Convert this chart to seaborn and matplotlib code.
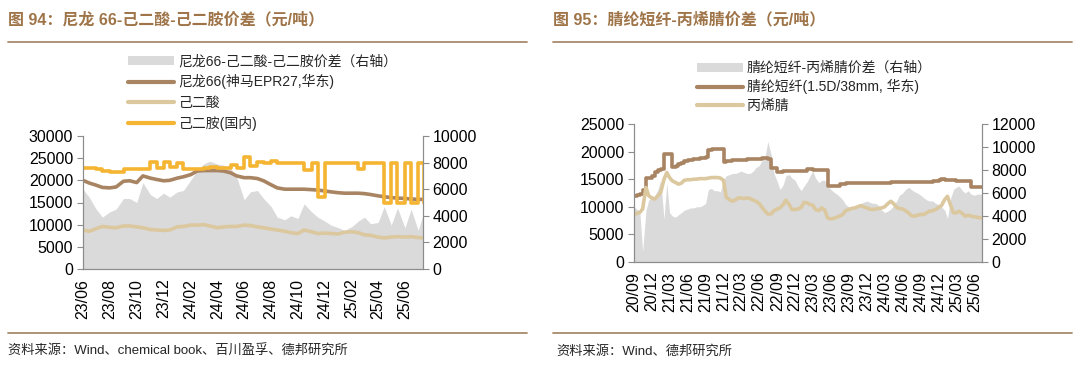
import matplotlib
matplotlib.use("Agg")
import matplotlib.pyplot as plt
import matplotlib.dates as mdates
from matplotlib.lines import Line2D
from matplotlib.patches import Patch
import pandas as pd
import seaborn as sns

# ---------------- data: chart 94 (semi-monthly, from 2023-06) ----------------
nylon66 = [20000, 19400, 18900, 18400, 18300, 18500, 19800, 19900, 19500, 21000,
           20500, 20200, 19900, 20000, 20500, 20800, 21300, 22100, 22200, 22200,
           22200, 22100, 21700, 21000, 20600, 20600, 20400, 19900, 19000, 18300,
           18000, 18000, 18000, 18000, 17900, 17800, 17600, 17400, 17200, 17100,
           17100, 17100, 17000, 16800, 16500, 16300, 16100, 16000, 15900, 15800,
           15700, 15700]
adipic = [8800, 8500, 9100, 9600, 9400, 9300, 9700, 9700, 9500, 9300,
          8900, 8800, 8700, 8800, 9500, 9600, 9900, 9900, 10000, 9700,
          9300, 9500, 9600, 9600, 9900, 9800, 9500, 9300, 9000, 8800,
          8500, 8200, 8000, 8800, 8400, 8000, 8100, 8000, 7900, 8300,
          8400, 8200, 7700, 7600, 7200, 7000, 7200, 7300, 7200, 7300,
          7100, 7000]
hmda = [22800, 22800, 22600, 22200, 21900, 21900, 22600, 22600, 22600, 22600,
        24200, 22700, 24100, 23000, 24000, 22600, 22600, 22600, 22800, 23000,
        22800, 22800, 23400, 22800, 25200, 23200, 24200, 23800, 24400, 23800,
        23800, 23800, 23900, 22300, 23900, 16200, 23900, 23900, 23900, 23900,
        23900, 22500, 23900, 23900, 23900, 14800, 23900, 14800, 23900, 14800,
        23900, 14800]
spread94 = [6000, 5400, 4500, 3900, 4300, 4500, 5300, 5300, 5000, 6500,
            5600, 5300, 5700, 5400, 5800, 5900, 6700, 7400, 7900, 8100,
            7900, 7800, 7600, 6900, 5200, 5800, 5900, 5300, 4700, 3900,
            3700, 4000, 3800, 4900, 4300, 3900, 3600, 3300, 3100, 2900,
            3200, 3600, 3900, 3400, 3500, 4700, 3300, 4600, 3100, 4500,
            2900, 4400]

# ---------------- data: chart 95 (semi-monthly, from 2020-09) ----------------
fiber = [11900, 12100, 12300, 13000, 15200, 15300, 15600, 16300, 16600, 16800,
         19500, 19600, 19600, 17300, 17400, 17700, 18000, 18300, 18400, 18500,
         18600, 18700, 18800, 18850, 19000, 20300, 20400, 20500, 20500, 20500,
         18200, 18300, 18300, 18400, 18400, 18500, 18500, 18500, 18600, 18600,
         18600, 18600, 18700, 18800, 18800, 18700, 17100, 17000, 16300, 16300,
         16400, 16500, 16500, 16500, 16400, 16400, 16400, 16400, 16800, 16800,
         16700, 16700, 16700, 16600, 16600, 13800, 13700, 13700, 13800, 14100,
         14100, 14400, 14400, 14400, 14400, 14400, 14400, 14400, 14400, 14400,
         14400, 14400, 14400, 14400, 14400, 14400, 14500, 14500, 14500, 14500,
         14500, 14500, 14500, 14500, 14500, 14500, 14500, 14500, 14500, 14500,
         14600, 14600, 14900, 15000, 14900, 14800, 14800, 14800, 14700, 14700,
         14700, 14700, 14700, 13600, 13600, 13600, 13600, 13600]
acrylo = [8600, 8800, 9000, 9600, 13500, 12000, 11600, 11400, 12000, 12600,
          15000, 16200, 15300, 14700, 14400, 14100, 14300, 14800, 14900, 14900,
          15000, 15000, 15100, 15100, 15100, 15200, 15300, 15300, 15300, 15200,
          14800, 11700, 11300, 11000, 11300, 11600, 11600, 11500, 11600, 11500,
          11200, 11000, 10600, 9900, 9200, 8700, 8700, 9300, 9600, 9800,
          10400, 11200, 10400, 9500, 9500, 9600, 9900, 10800, 10700, 10400,
          10300, 9500, 9300, 9800, 9400, 8000, 7800, 7900, 8100, 8300,
          8600, 9300, 9500, 9700, 9800, 10000, 10200, 10000, 9800, 9600,
          9500, 9600, 9700, 9800, 10000, 10500, 11000, 10600, 9900, 9700,
          9600, 9300, 8900, 8400, 8300, 8500, 8600, 8600, 8900, 9200,
          9300, 9500, 9900, 10200, 11300, 11900, 10200, 8900, 8900, 9200,
          8800, 8300, 8500, 8300, 8200, 8100, 8000, 8000]
spread95 = [4800, 4600, 4300, 900, 4500, 5400, 5600, 5700, 6300, 7100,
            3700, 6900, 4300, 4000, 3900, 4100, 4300, 4500, 4600, 4700,
            4700, 4800, 4800, 4900, 5100, 6300, 6400, 6200, 6200, 6100,
            7100, 7500, 7600, 7700, 7700, 7800, 7900, 7800, 7700, 7700,
            7900, 8200, 8400, 8800, 9200, 10500, 9300, 7700, 7000, 6300,
            6700, 7500, 7600, 7300, 7100, 6600, 6200, 6600, 7000, 7500,
            7900, 7300, 6900, 7100, 7100, 6600, 6300, 6100, 5900, 5700,
            5400, 5000, 4800, 4700, 4800, 5000, 5100, 5200, 5300, 5200,
            5100, 5100, 4900, 4500, 4300, 4400, 4600, 4900, 5300, 5800,
            6000, 6300, 6500, 6300, 6100, 6000, 5800, 5600, 5400, 5300,
            5300, 5100, 5000, 4800, 4500, 3800, 5600, 6300, 6500, 6600,
            6200, 6000, 6200, 5900, 5800, 5900, 5900, 5900]

dates94 = pd.date_range("2023-06-01", periods=len(nylon66), freq="SMS")
dates95 = pd.date_range("2020-09-01", periods=len(fiber), freq="SMS")

# colours
BROWN = "#A88462"
TAN = "#DCC89F"
ORANGE = "#F5B533"
GREY = "#DADADA"
TITLE = "#9E7448"
RULE = "#A88A6C"
SPINE = "#8C8C8C"

sns.set_theme(style="white")
plt.rcParams["font.family"] = ["Liberation Sans", "Noto Sans CJK SC"]

W, H = 1080, 378
fig = plt.figure(figsize=(10.8, 3.78), dpi=100)


def box(x0, y0, x1, y1):
    return [x0 / W, 1 - y1 / H, (x1 - x0) / W, (y1 - y0) / H]


def style_axes(ax, axr):
    for a in (ax, axr):
        a.spines["top"].set_visible(False)
        for s in ("left", "right", "bottom"):
            a.spines[s].set_color(SPINE)
            a.spines[s].set_linewidth(0.8)
        a.tick_params(axis="both", which="major", direction="out", length=4,
                      width=0.8, color=SPINE, labelsize=11.5, labelcolor="black", pad=3)
        a.grid(False)
    ax.set_xlabel("")
    ax.set_ylabel("")
    axr.set_ylabel("")
    for lab in ax.get_xticklabels():
        lab.set_rotation(90)


# ---------------- chart 94 ----------------
ax1 = fig.add_axes(box(83, 136, 423, 269))
ax1r = ax1.twinx()
ax1r.fill_between(dates94, 0, spread94, color=GREY, lw=0)
sns.lineplot(x=dates94, y=nylon66, ax=ax1, color=BROWN, lw=2.6)
sns.lineplot(x=dates94, y=adipic, ax=ax1, color=TAN, lw=2.6)
sns.lineplot(x=dates94, y=hmda, ax=ax1, color=ORANGE, lw=2.6, drawstyle="steps-post")
ax1.set_zorder(ax1r.get_zorder() + 1)
ax1.patch.set_visible(False)
ax1.set_ylim(0, 30000)
ax1.set_yticks(range(0, 30001, 5000))
ax1r.set_ylim(0, 10000)
ax1r.set_yticks(range(0, 10001, 2000))
ax1.set_xlim(pd.Timestamp("2023-06-01"), pd.Timestamp("2025-07-12"))
ax1.xaxis.set_major_locator(mdates.MonthLocator(bymonth=[2, 4, 6, 8, 10, 12]))
ax1.xaxis.set_major_formatter(mdates.DateFormatter("%y/%m"))
style_axes(ax1, ax1r)

# ---------------- chart 95 ----------------
ax2 = fig.add_axes(box(634, 124, 982, 262))
ax2r = ax2.twinx()
ax2r.fill_between(dates95, 0, spread95, color=GREY, lw=0)
sns.lineplot(x=dates95, y=fiber, ax=ax2, color=BROWN, lw=2.6, drawstyle="steps-post")
sns.lineplot(x=dates95, y=acrylo, ax=ax2, color=TAN, lw=2.6)
ax2.set_zorder(ax2r.get_zorder() + 1)
ax2.patch.set_visible(False)
ax2.set_ylim(0, 25000)
ax2.set_yticks(range(0, 25001, 5000))
ax2r.set_ylim(0, 12000)
ax2r.set_yticks(range(0, 12001, 2000))
ax2.set_xlim(pd.Timestamp("2020-09-01"), pd.Timestamp("2025-07-10"))
ax2.xaxis.set_major_locator(mdates.MonthLocator(bymonth=[3, 6, 9, 12]))
ax2.xaxis.set_major_formatter(mdates.DateFormatter("%y/%m"))
style_axes(ax2, ax2r)

# ---------------- legends ----------------
h94 = [Patch(facecolor=GREY, edgecolor="none"),
       Line2D([], [], color=BROWN, lw=3),
       Line2D([], [], color=TAN, lw=3),
       Line2D([], [], color=ORANGE, lw=3)]
l94 = ["尼龙66-己二酸-己二胺价差（右轴）", "尼龙66(神马EPR27,华东)", "己二酸", "己二胺(国内)"]
fig.legend(h94, l94, loc="upper left", bbox_to_anchor=(128 / W, 1 - 54 / H),
           frameon=False, fontsize=10, handlelength=3.3, handleheight=0.6,
           handletextpad=0.3, labelspacing=0.45, borderpad=0, borderaxespad=0)

h95 = [Patch(facecolor=GREY, edgecolor="none"),
       Line2D([], [], color=BROWN, lw=3),
       Line2D([], [], color=TAN, lw=3)]
l95 = ["腈纶短纤-丙烯腈价差（右轴）", "腈纶短纤(1.5D/38mm, 华东)", "丙烯腈"]
fig.legend(h95, l95, loc="upper left", bbox_to_anchor=(697 / W, 1 - 61 / H),
           frameon=False, fontsize=10, handlelength=3.3, handleheight=0.6,
           handletextpad=0.3, labelspacing=0.3, borderpad=0, borderaxespad=0)

# ---------------- titles, rules, sources ----------------
fig.text(8 / W, 1 - 20 / H, "图 94：尼龙 66-己二酸-己二胺价差（元/吨）",
         fontsize=11.5, fontweight="bold", color=TITLE, va="center", ha="left")
fig.text(553 / W, 1 - 20 / H, "图 95：腈纶短纤-丙烯腈价差（元/吨）",
         fontsize=11.5, fontweight="bold", color=TITLE, va="center", ha="left")
for x0, x1 in ((8, 527), (553, 1072)):
    fig.add_artist(Line2D([x0 / W, x1 / W], [1 - 42 / H] * 2, color=RULE, lw=1.3))
    fig.add_artist(Line2D([x0 / W, x1 / W], [1 - 333 / H] * 2, color=RULE, lw=1.3))
fig.text(8 / W, 1 - 351 / H, "资料来源：Wind、chemical book、百川盈孚、德邦研究所",
         fontsize=9.5, va="center", ha="left")
fig.text(556 / W, 1 - 351 / H, "资料来源：Wind、德邦研究所",
         fontsize=9.5, va="center", ha="left")

fig.savefig("out.png", dpi=100)
